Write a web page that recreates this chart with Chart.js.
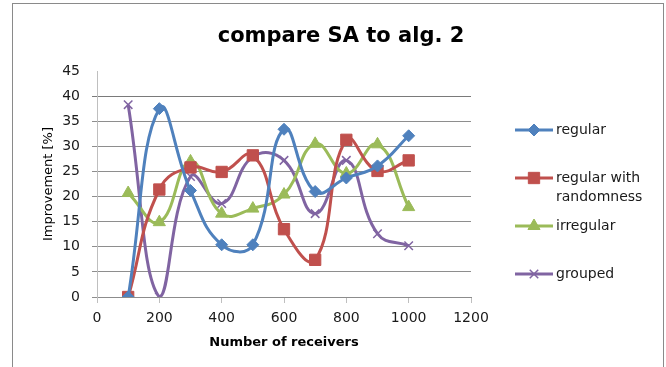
<!DOCTYPE html>
<html>
<head>
<meta charset="utf-8">
<title>compare SA to alg. 2</title>
<script src="https://cdn.jsdelivr.net/npm/chart.js@4.4.1/dist/chart.umd.min.js"></script>
<style>
  html, body { margin: 0; padding: 0; background: #fff; overflow: hidden; }
  #wrap { position: relative; width: 666px; height: 367px; overflow: hidden; }
  #frame {
    position: absolute; left: 12px; top: 3px; width: 652px; height: 420px;
    box-sizing: border-box; border: 1.5px solid #8a8a8a; border-bottom: none;
  }
  canvas { position: absolute; left: 0; top: 0; }
</style>
</head>
<body>
<div id="wrap">
  <div id="frame"></div>
  <canvas id="saChart" width="666" height="367"></canvas>
</div>
<script>
// improvement of SA over alg. 2, in percent, per number of receivers
const receivers = [100, 200, 300, 400, 500, 600, 700, 800, 900, 1000];
const regular = [0, 37.5, 21.2, 10.4, 10.4, 33.4, 21.0, 23.7, 26.1, 32.1];
const regularRandom = [0, 21.4, 25.8, 24.9, 28.2, 13.5, 7.4, 31.3, 25.1, 27.2];
const irregular = [20.7, 14.9, 27.0, 16.6, 17.6, 20.4, 30.5, 24.6, 30.4, 17.9];
const grouped = [38.3, 0, 24.0, 18.6, 27.9, 27.2, 16.6, 27.2, 12.6, 10.2];

const seriesNames = ['regular', 'regular with randomness', 'irregular', 'grouped'];
const xMin = 0, xMax = 1200, xStep = 200;
const yMin = 0, yMax = 45, yStep = 5;

const FONT = '"DejaVu Sans", sans-serif';

function series(label, values, color, style, radius, borderWidth) {
  return {
    label: label,
    data: receivers.map((r, i) => ({ x: r, y: values[i] })),
    borderColor: color,
    backgroundColor: color,
    borderWidth: 3,
    tension: 0.45,
    pointStyle: style,
    pointRadius: radius,
    pointBackgroundColor: color,
    pointBorderColor: color,
    pointBorderWidth: borderWidth
  };
}

// wraps a legend label into lines no wider than maxWidth
function wrapLines(ctx, text, maxWidth) {
  const words = text.split(' ');
  const lines = [];
  let line = '';
  words.forEach(w => {
    const test = line ? line + ' ' + w : w;
    if (line && ctx.measureText(test).width > maxWidth) {
      lines.push(line);
      line = w;
    } else {
      line = test;
    }
  });
  lines.push(line);
  return lines;
}

// legend drawn in the space kept free right of the plot
const sideLegend = {
  id: 'sideLegend',
  afterDraw(chart) {
    const ctx = chart.ctx;
    const area = chart.chartArea;
    const x0 = area.right + 44;
    ctx.save();
    ctx.font = '14px ' + FONT;
    ctx.textBaseline = 'middle';
    chart.data.datasets.forEach((ds, i) => {
      const y = area.top + 59 + i * 48;
      ctx.strokeStyle = ds.borderColor;
      ctx.lineWidth = 3;
      ctx.beginPath();
      ctx.moveTo(x0, y);
      ctx.lineTo(x0 + 38, y);
      ctx.stroke();
      ctx.fillStyle = ds.pointBackgroundColor;
      ctx.strokeStyle = ds.pointBorderColor;
      ctx.lineWidth = ds.pointBorderWidth;
      Chart.helpers.drawPoint(ctx, {
        pointStyle: ds.pointStyle,
        radius: ds.pointRadius,
        rotation: 0,
        borderWidth: ds.pointBorderWidth
      }, x0 + 19, y);
      ctx.fillStyle = '#1a1a1a';
      wrapLines(ctx, ds.label, 96).forEach((line, k) => {
        ctx.fillText(line, x0 + 41, y + k * 19);
      });
    });
    ctx.restore();
  }
};

const ctx = document.getElementById('saChart').getContext('2d');
new Chart(ctx, {
  type: 'line',
  data: {
    datasets: [
      series(seriesNames[0], regular, '#4f81bd', 'rectRot', 6, 1),
      series(seriesNames[1], regularRandom, '#c0504d', 'rect', 8, 1),
      series(seriesNames[2], irregular, '#9bbb59', 'triangle', 7, 1),
      series(seriesNames[3], grouped, '#8064a2', 'crossRot', 6, 1.5)
    ]
  },
  options: {
    responsive: false,
    animation: false,
    devicePixelRatio: 1,
    layout: { padding: { left: 16, right: 0, top: 4, bottom: 10 } },
    plugins: {
      legend: { display: false },
      tooltip: { enabled: false },
      title: {
        display: true,
        text: 'compare SA to alg. 2',
        color: '#000',
        font: { family: FONT, size: 21, weight: 'bold' },
        padding: { top: 20, bottom: 21.8 }
      }
    },
    scales: {
      x: {
        type: 'linear',
        min: xMin,
        max: xMax,
        afterFit: s => { s.height = 60; },
        ticks: {
          stepSize: xStep,
          padding: 7,
          color: '#1a1a1a',
          font: { family: FONT, size: 14 },
          callback: v => String(v)
        },
        grid: {
          drawOnChartArea: false,
          color: '#bfbfbf',
          tickLength: 6
        },
        border: { color: '#8c8c8c', width: 1 },
        title: {
          display: true,
          text: 'Number of receivers',
          color: '#000',
          font: { family: FONT, size: 13, weight: 'bold' },
          padding: { top: 0, bottom: 7 }
        }
      },
      y: {
        min: yMin,
        max: yMax,
        afterFit: s => { s.width = 81; },
        ticks: {
          stepSize: yStep,
          padding: 12,
          color: '#1a1a1a',
          font: { family: FONT, size: 14 }
        },
        grid: {
          color: c => c.tick.value === yMax ? 'rgba(0,0,0,0)' : (c.tick.value === 40 ? '#7a7a7a' : '#8e8e8e'),
          tickLength: 5
        },
        border: { color: '#bfbfbf', width: 1 },
        title: {
          display: true,
          text: 'Improvement [%]',
          color: '#000',
          font: { family: FONT, size: 13 },
          padding: { top: 25, bottom: 0 }
        }
      },
      // empty scale that keeps room for the legend on the right
      legendSpace: {
        type: 'linear',
        position: 'right',
        min: 0,
        max: 1,
        afterFit: s => { s.width = 195; },
        ticks: { display: false },
        grid: { display: false },
        border: { display: false }
      }
    }
  },
  plugins: [sideLegend]
});
</script>
</body>
</html>
